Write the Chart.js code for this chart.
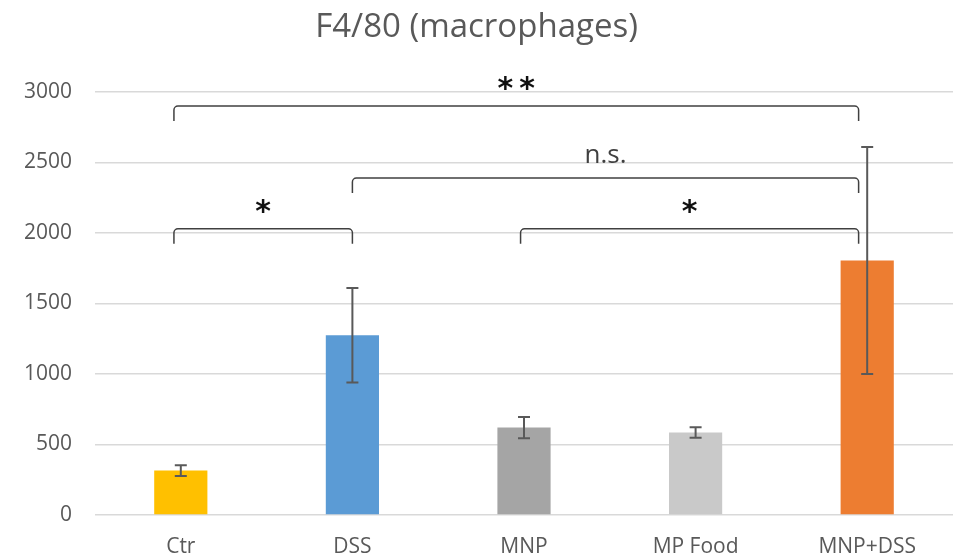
<!DOCTYPE html>
<html>
<head>
<meta charset="utf-8">
<script src="https://cdn.jsdelivr.net/npm/chart.js@4"></script>
<style>
  html, body { margin: 0; padding: 0; background: #fff; }
  #box { width: 955px; height: 559px; }
</style>
</head>
<body>
<div id="box"><canvas id="chartMacro"></canvas></div>
<script>
// data
const groups = ['Ctr', 'DSS', 'MNP', 'MP Food', 'MNP+DSS'];
const means = [315, 1275, 620, 585, 1805];
const errors = [38, 335, 75, 37, 805];
const barColors = ['#FFC000', '#5B9BD5', '#A5A5A5', '#C9C9C9', '#ED7D31'];

// significance brackets (category index positions, height in axis units)
const bracketFrom = [-0.04, 1.0, -0.04, 1.98];
const bracketTo = [3.95, 3.95, 1.0, 3.95];
const bracketY = [2900, 2390, 2030, 2030];
const bracketText = ['**', 'n.s.', '*', '*'];

const textGrey = '#595959';

const errorBarPlugin = {
	id: 'errorBars',
	afterDatasetsDraw(chart) {
		const ctx = chart.ctx;
		const meta = chart.getDatasetMeta(0);
		const yScale = chart.scales.y;
		ctx.save();
		ctx.strokeStyle = '#595959';
		ctx.lineWidth = 2;
		meta.data.forEach((bar, i) => {
			const x = bar.x;
			const top = yScale.getPixelForValue(means[i] + errors[i]);
			const bottom = yScale.getPixelForValue(means[i] - errors[i]);
			ctx.beginPath();
			ctx.moveTo(x, top);
			ctx.lineTo(x, bottom);
			ctx.moveTo(x - 6, top);
			ctx.lineTo(x + 6, top);
			ctx.moveTo(x - 6, bottom);
			ctx.lineTo(x + 6, bottom);
			ctx.stroke();
		});
		ctx.restore();
	},
};

const bracketPlugin = {
	id: 'brackets',
	afterDatasetsDraw(chart) {
		const ctx = chart.ctx;
		const xScale = chart.scales.x;
		const yScale = chart.scales.y;
		ctx.save();
		ctx.strokeStyle = '#404040';
		ctx.lineWidth = 1.5;
		bracketText.forEach((label, i) => {
			const x1 = xScale.getPixelForValue(bracketFrom[i]);
			const x2 = xScale.getPixelForValue(bracketTo[i]);
			const y = yScale.getPixelForValue(bracketY[i]);
			const legEnd = y + 15;
			ctx.beginPath();
			ctx.moveTo(x1, legEnd);
			ctx.arcTo(x1, y, x1 + 4, y, 4);
			ctx.arcTo(x2, y, x2, y + 4, 4);
			ctx.lineTo(x2, legEnd);
			ctx.stroke();

			const cx = (x1 + x2) / 2;
			ctx.textAlign = 'center';
			if (label === 'n.s.') {
				ctx.fillStyle = '#404040';
				ctx.font = '26px "Open Sans"';
				ctx.textBaseline = 'alphabetic';
				ctx.fillText(label, cx, y - 15);
			} else {
				ctx.fillStyle = '#111';
				ctx.font = 'bold 30px "DejaVu Sans"';
				ctx.textBaseline = 'top';
				ctx.fillText(label.split('').join('\u2009'), cx, y - 31);
			}
		});
		ctx.restore();
	},
};

const data = {
	labels: groups,
	datasets: [
		{
			data: means,
			backgroundColor: barColors,
			borderWidth: 0,
			categoryPercentage: 1,
			barPercentage: 0.31,
		},
	],
};

const config = {
	type: 'bar',
	data: data,
	options: {
		responsive: true,
		maintainAspectRatio: false,
		animation: false,
		layout: {
			padding: { top: 0, right: 2, bottom: 0, left: 0 },
		},
		plugins: {
			legend: { display: false },
			tooltip: { enabled: false },
			title: {
				display: true,
				text: 'F4/80 (macrophages)',
				color: textGrey,
				font: { family: 'Open Sans', size: 33, weight: 'normal' },
				padding: { top: 8, bottom: 44.4 },
			},
		},
		scales: {
			x: {
				grid: { display: false, drawTicks: false },
				border: { display: false },
				ticks: {
					color: textGrey,
					font: { family: 'Open Sans', size: 21 },
					padding: 19,
				},
				afterFit: (scale) => {
					scale.height = 44;
				},
			},
			y: {
				min: 0,
				max: 3000,
				grid: { color: '#D9D9D9', lineWidth: 1.5, drawTicks: false },
				border: { display: false },
				ticks: {
					stepSize: 500,
					color: textGrey,
					font: { family: 'Open Sans', size: 21 },
					padding: 23,
					callback: (value) => String(value),
				},
				afterFit: (scale) => {
					scale.width = 95;
				},
			},
		},
	},
	plugins: [errorBarPlugin, bracketPlugin],
};

const ctx = document.getElementById('chartMacro').getContext('2d');
const myChart = new Chart(ctx, config);
</script>
</body>
</html>
